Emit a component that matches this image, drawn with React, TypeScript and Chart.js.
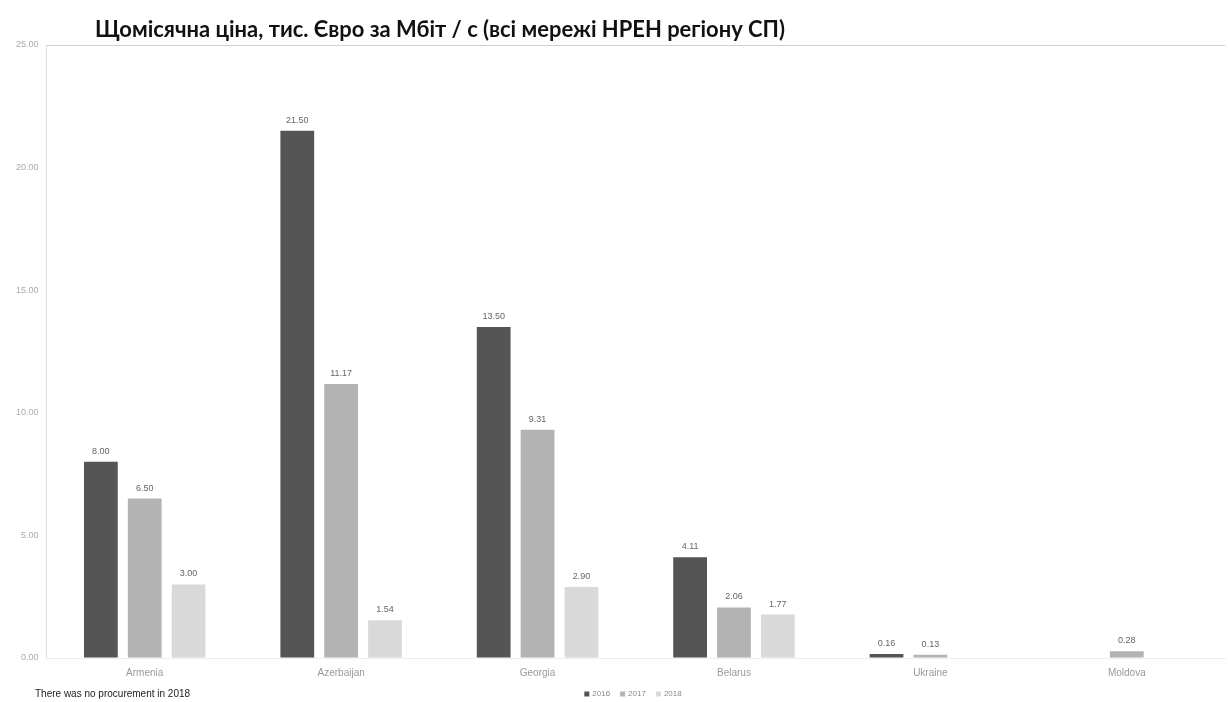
import React, { useEffect, useRef } from "react";
import { Chart, registerables } from "chart.js";

Chart.register(...registerables);

const TITLE = "Щомісячна ціна, тис. Євро за Мбіт / с (всі мережі НРЕН регіону СП)";
const FOOTNOTE = "There was no procurement in 2018";
const categories = ["Armenia", "Azerbaijan", "Georgia", "Belarus", "Ukraine", "Moldova"];
const seriesNames = ["2016", "2017", "2018"];
const values2016: (number | null)[] = [8.0, 21.5, 13.5, 4.11, 0.16, null];
const values2017: (number | null)[] = [6.5, 11.17, 9.31, 2.06, 0.13, 0.28];
const values2018: (number | null)[] = [3.0, 1.54, 2.9, 1.77, null, null];
const seriesColors = ["#555555", "#b3b3b3", "#d9d9d9"];
const yTicks = [0, 5, 10, 15, 20, 25];

const labelPlugin = {
  id: "valueLabels",
  afterDatasetsDraw(chart: any) {
    const ctx = chart.ctx;
    ctx.save();
    ctx.font = "9px 'Liberation Sans', sans-serif";
    ctx.fillStyle = "#666666";
    ctx.textAlign = "center";
    ctx.textBaseline = "bottom";
    chart.data.datasets.forEach((ds: any, i: number) => {
      const meta = chart.getDatasetMeta(i);
      meta.data.forEach((el: any, j: number) => {
        const v = ds.data[j];
        if (v === null || v === undefined) return;
        ctx.fillText(v.toFixed(2), el.x, el.y - 6);
      });
    });
    ctx.restore();
  },
  afterDraw(chart: any) {
    const ctx = chart.ctx;
    ctx.save();
    ctx.fillStyle = "#ffffff";
    ctx.fillRect(48, 14, 782, 30);
    ctx.font = "bold 20px Lato, sans-serif";
    const w = ctx.measureText(TITLE).width;
    const size = (20 * 690) / w;
    ctx.font = `bold ${size.toFixed(2)}px Lato, sans-serif`;
    ctx.fillStyle = "#111111";
    ctx.textAlign = "left";
    ctx.textBaseline = "middle";
    ctx.fillText(TITLE, 95, 30);
    ctx.font = "10px 'Liberation Sans', sans-serif";
    ctx.fillStyle = "#222222";
    ctx.fillText(FOOTNOTE, 35, 694);

    // legend
    ctx.font = "8px 'Liberation Sans', sans-serif";
    const box = 5;
    const gapBox = 3;
    const gapItem = 10;
    const widths = seriesNames.map((n) => box + gapBox + ctx.measureText(n).width);
    const total = widths.reduce((a, b) => a + b, 0) + gapItem * (seriesNames.length - 1);
    let x = 633 - total / 2;
    const y = 694;
    seriesNames.forEach((n, i) => {
      ctx.fillStyle = seriesColors[i];
      ctx.fillRect(x, y - box / 2, box, box);
      ctx.fillStyle = "#888888";
      ctx.fillText(n, x + box + gapBox, y);
      x += widths[i] + gapItem;
    });
    ctx.restore();
  },
};

export default function App() {
  const ref = useRef<HTMLCanvasElement>(null);
  useEffect(() => {
    if (!ref.current) return;
    const data = [values2016, values2017, values2018];
    const chart = new Chart(ref.current, {
      type: "bar",
      data: {
        labels: categories,
        datasets: seriesNames.map((n, i) => ({
          label: n,
          data: data[i],
          backgroundColor: seriesColors[i],
          borderWidth: 0,
          categoryPercentage: 0.67,
          barPercentage: 0.77,
        })),
      },
      options: {
        animation: false,
        responsive: true,
        maintainAspectRatio: false,
        layout: { padding: { top: 45, left: 8, right: 3, bottom: 14 } },
        plugins: {
          legend: { display: false },
          tooltip: { enabled: false },
        },
        scales: {
          x: {
            grid: { display: false, drawTicks: false },
            border: { color: "#eeeeee" },
            ticks: {
              padding: 9,
              color: "#999999",
              font: { size: 10, family: "'Liberation Sans', sans-serif" },
            },
          },
          y: {
            min: 0,
            max: 25,
            afterBuildTicks: (axis: any) => {
              axis.ticks = yTicks.map((v) => ({ value: v }));
            },
            grid: {
              drawTicks: false,
              color: (c: any) => (c.tick && c.tick.value === 25 ? "#d0d0d0" : "rgba(0,0,0,0)"),
            },
            border: { color: "#dddddd" },
            ticks: {
              padding: 8,
              color: "#aaaaaa",
              font: { size: 9, family: "'Liberation Sans', sans-serif" },
              callback: (v: any) => Number(v).toFixed(2),
            },
          },
        },
      },
      plugins: [labelPlugin],
    });
    return () => chart.destroy();
  }, []);
  return (
    <div style={{ position: "fixed", left: 0, top: 0, width: 1228, height: 702, background: "#fff" }}>
      <canvas ref={ref} />
    </div>
  );
}
